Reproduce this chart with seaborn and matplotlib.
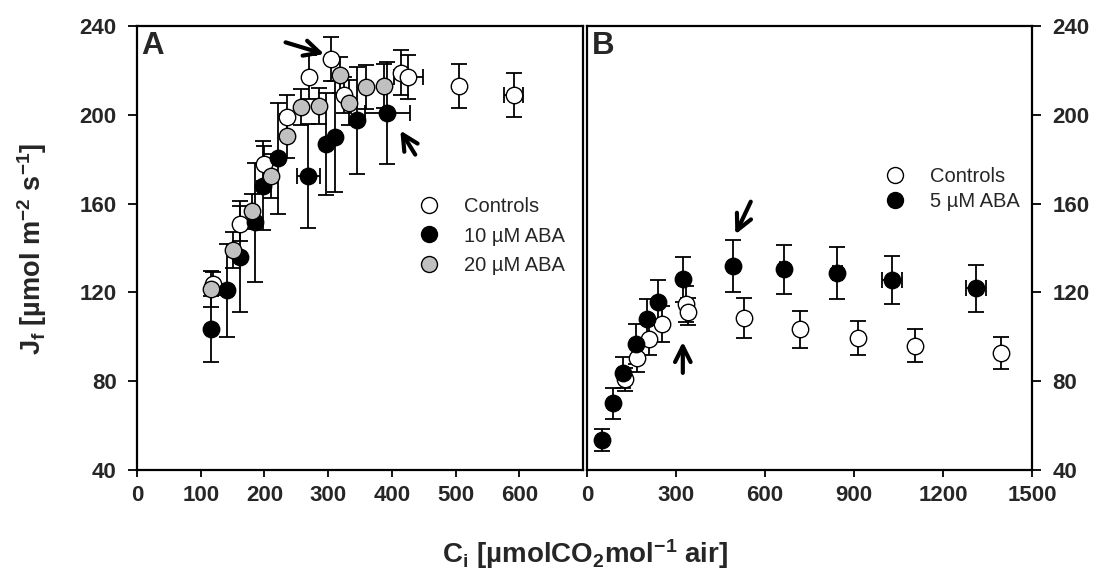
import matplotlib
matplotlib.use("Agg")
import matplotlib.pyplot as plt
import seaborn as sns
import pandas as pd
import numpy as np
from matplotlib.lines import Line2D

sns.set_style("white")
plt.rcParams['font.family'] = ['Liberation Sans', 'DejaVu Sans']
plt.rcParams['mathtext.fontset'] = 'custom'
plt.rcParams['mathtext.bf'] = 'Liberation Sans:bold'
plt.rcParams['mathtext.rm'] = 'Liberation Sans'
plt.rcParams['mathtext.default'] = 'bf'

# ---------------- Panel A data ----------------
a_ctrl_x = [120, 162, 200, 235, 270, 305, 325, 415, 426, 505, 591]
a_ctrl_y = [124, 151, 178, 199, 217, 225, 209, 219, 217, 213, 209]
a_ctrl_ye = [5, 8, 8, 10, 10, 10, 8, 10, 10, 10, 10]
a_ctrl_xe = [0, 0, 0, 0, 0, 0, 0, 0, 23, 0, 15]

a_aba10_x = [116, 141, 162, 185, 198, 221, 269, 297, 311, 345, 393]
a_aba10_y = [103.5, 121, 136, 151.5, 168, 180.5, 172.5, 187, 190, 197.5, 201]
a_aba10_ye = [15, 21, 25, 27, 20, 25, 23.5, 23, 25, 24, 23]
a_aba10_xe = [0, 0, 0, 0, 0, 0, 18, 0, 0, 0, 35]

a_aba20_x = [116, 150, 181, 211, 235, 258, 285, 319, 332, 360, 388]
a_aba20_y = [121.5, 139, 156.5, 172.5, 190.5, 203.5, 204, 218, 205.5, 212.5, 213]
a_aba20_ye = [8, 8, 8, 10, 10, 8, 8, 8, 10, 10, 10]
a_aba20_xe = [0, 0, 0, 0, 0, 0, 0, 0, 0, 0, 0]

# ---------------- Panel B data ----------------
b_ctrl_x = [128, 170, 209, 252, 334, 340, 528, 719, 912, 1104, 1397]
b_ctrl_y = [80.8, 90.3, 98.9, 105.8, 114.8, 111.3, 108.3, 103.4, 99.3, 96.0, 92.6]
b_ctrl_ye = [5, 6, 7, 8, 8, 6, 9, 8.4, 7.7, 7.4, 7.1]
b_ctrl_xe = [0, 0, 0, 0, 0, 0, 0, 0, 0, 0, 0]

b_aba5_x = [50, 89, 123, 165, 201, 241, 323, 492, 663, 843, 1028, 1310]
b_aba5_y = [53.5, 70.0, 83.8, 96.6, 107.9, 115.5, 125.9, 131.9, 130.4, 128.6, 125.6, 121.8]
b_aba5_ye = [5, 7, 7, 9, 9, 10, 10, 11.6, 11, 11.7, 11, 10.5]
b_aba5_xe = [0, 0, 0, 0, 0, 0, 0, 0, 12, 15, 34, 34]

labels_a = ['Controls', '10 \u00b5M ABA', '20 \u00b5M ABA']
labels_b = ['Controls', '5 \u00b5M ABA']
y_ticks = [40, 80, 120, 160, 200, 240]
xa_ticks = [0, 100, 200, 300, 400, 500, 600]
xb_ticks = [0, 300, 600, 900, 1200, 1500]

W, H = 1098, 581
fig = plt.figure(figsize=(W / 100, H / 100), dpi=100)
axA = fig.add_axes([137 / W, (H - 470) / H, (583 - 137) / W, 444 / H])
axB = fig.add_axes([587 / W, (H - 470) / H, (1032 - 587) / W, 444 / H])

MS = 140


def draw_series(ax, x, y, xe, ye, face, label):
    df = pd.DataFrame({'x': x, 'y': y})
    ax.errorbar(x, y, yerr=ye, xerr=[v if v > 0 else np.nan for v in xe],
                fmt='none', ecolor='black', elinewidth=1.3, capsize=6,
                capthick=1.3, zorder=2)
    sns.scatterplot(data=df, x='x', y='y', ax=ax, s=MS, color=face,
                    edgecolor='black', linewidth=1.0, zorder=3, label=label,
                    legend=False)


draw_series(axA, a_ctrl_x, a_ctrl_y, a_ctrl_xe, a_ctrl_ye, 'white', labels_a[0])
draw_series(axA, a_aba10_x, a_aba10_y, a_aba10_xe, a_aba10_ye, 'black', labels_a[1])
draw_series(axA, a_aba20_x, a_aba20_y, a_aba20_xe, a_aba20_ye, '#c0c0c0', labels_a[2])

draw_series(axB, b_ctrl_x, b_ctrl_y, b_ctrl_xe, b_ctrl_ye, 'white', labels_b[0])
draw_series(axB, b_aba5_x, b_aba5_y, b_aba5_xe, b_aba5_ye, 'black', labels_b[1])

for ax in (axA, axB):
    ax.set_ylim(40, 240)
    ax.set_yticks(y_ticks)
    ax.set_xlabel('')
    ax.set_ylabel('')
    for s in ax.spines.values():
        s.set_visible(True)
        s.set_linewidth(1.6)
        s.set_color('black')
    ax.tick_params(axis='y', which='both', direction='out', length=6.5,
                   width=1.3, color='black', labelsize=16, pad=8)
    ax.tick_params(axis='x', which='both', direction='out', length=5,
                   width=1.3, color='black', labelsize=16, pad=6)

axA.set_xlim(0, 700)
axA.set_xticks(xa_ticks)
axA.tick_params(axis='y', left=True, right=False, labelleft=True)
axA.tick_params(axis='x', bottom=True, top=False)

axB.set_xlim(0, 1500)
axB.set_xticks(xb_ticks)
axB.yaxis.tick_right()
axB.tick_params(axis='y', left=False, right=True, labelright=True, labelleft=False)
axB.tick_params(axis='x', bottom=True, top=False)
for ax in (axA, axB):
    for lab in ax.get_xticklabels() + ax.get_yticklabels():
        lab.set_fontweight('bold')

# Panel letters
axA.text(0.01, 0.988, 'A', transform=axA.transAxes, fontsize=22.5,
         fontweight='bold', va='top', ha='left')
axB.text(0.01, 0.988, 'B', transform=axB.transAxes, fontsize=22.5,
         fontweight='bold', va='top', ha='left')


def handles(faces):
    return [Line2D([], [], linestyle='none', marker='o', markersize=11.5,
                   markerfacecolor=f, markeredgecolor='black',
                   markeredgewidth=1.0) for f in faces]


axA.legend(handles(['white', 'black', '#c0c0c0']), labels_a,
           loc='center left', bbox_to_anchor=(0.61, 0.527),
           frameon=False, fontsize=14.5, handlelength=1.0,
           handletextpad=1.25, labelspacing=0.5, borderpad=0)
axB.legend(handles(['white', 'black']), labels_b,
           loc='center left', bbox_to_anchor=(0.6465, 0.632),
           frameon=False, fontsize=14.5, handlelength=1.0,
           handletextpad=1.25, labelspacing=0.3, borderpad=0)

# Arrows
ap = dict(arrowstyle='->', lw=3.0, color='black', mutation_scale=28)
axA.annotate('', xy=(298, 227), xytext=(229, 233), arrowprops=ap)
axA.annotate('', xy=(411, 194), xytext=(439, 181), arrowprops=ap)
axB.annotate('', xy=(496, 145), xytext=(556, 162), arrowprops=ap)
axB.annotate('', xy=(323, 99), xytext=(323, 82.5), arrowprops=ap)

# Axis labels
fig.text(585 / W, (H - 563) / H, r'C$_{i}$ [µmolCO$_{2}$mol$^{-1}$ air]',
         ha='center', va='baseline', fontsize=20, fontweight='bold')
fig.text(32 / W, (H - 249) / H, r'J$_{f}$ [µmol m$^{-2}$ s$^{-1}$]',
         ha='center', va='center', fontsize=19.5, fontweight='bold', rotation=90)

fig.savefig('out.png', dpi=100)
